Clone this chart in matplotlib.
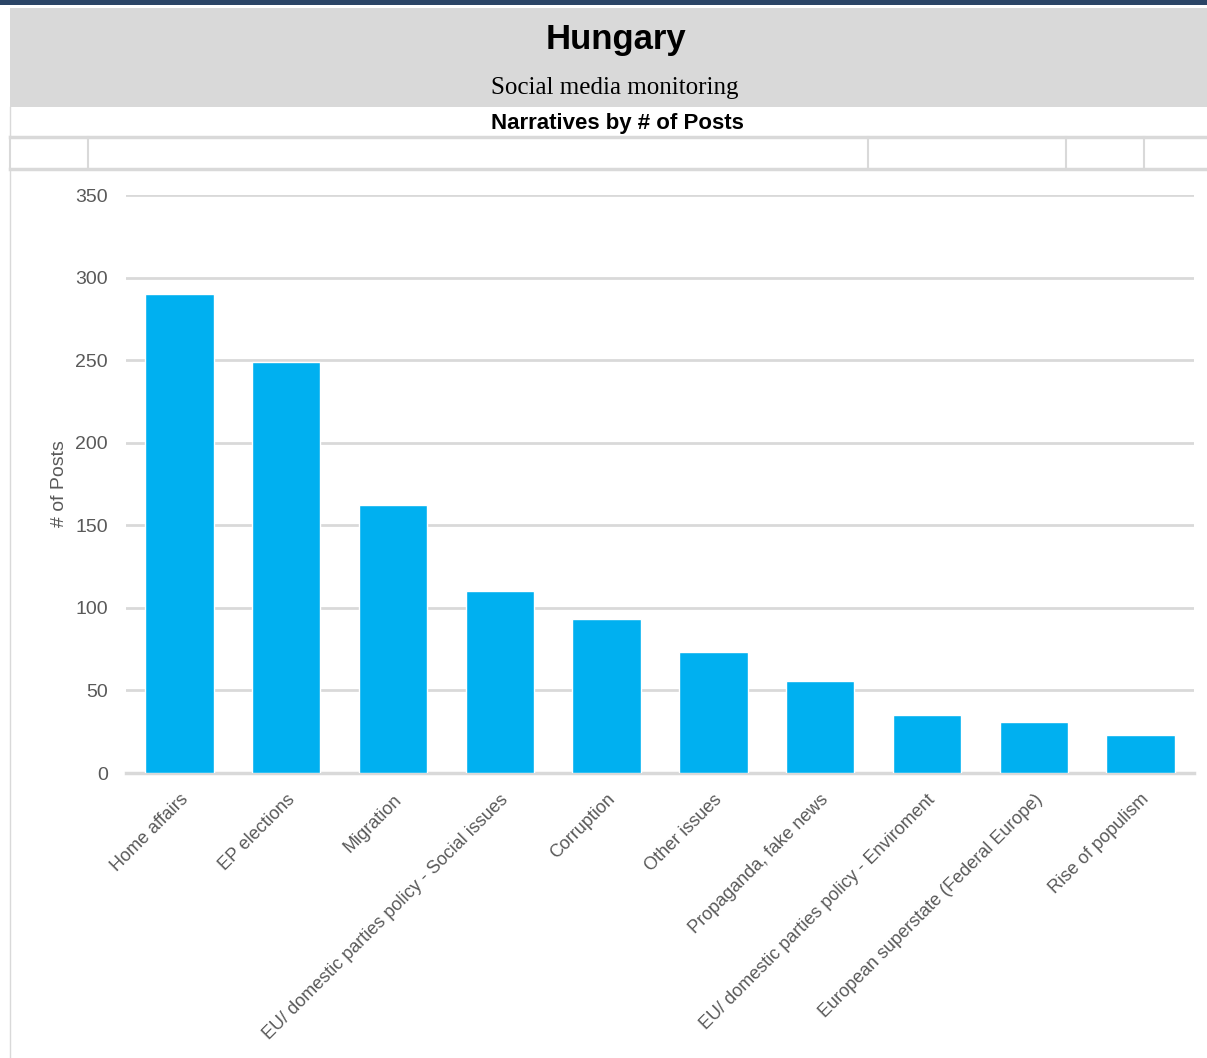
import matplotlib
matplotlib.use("Agg")
import matplotlib.pyplot as plt
from matplotlib.patches import Rectangle
from matplotlib.lines import Line2D

categories = [
    "Home affairs",
    "EP elections",
    "Migration",
    "EU/ domestic parties policy - Social issues",
    "Corruption",
    "Other issues",
    "Propaganda, fake news",
    "EU/ domestic parties policy - Enviroment",
    "European superstate (Federal Europe)",
    "Rise of populism",
]
posts = [290, 249, 162, 110, 93, 73, 56, 35, 31, 23]
y_ticks = [0, 50, 100, 150, 200, 250, 300, 350]

W, H = 1207, 1058
fig = plt.figure(figsize=(W / 100, H / 100), dpi=100)
fig.patch.set_facecolor("white")

SANS = ["Liberation Sans", "DejaVu Sans"]
GRID = "#D9D9D9"
TXT = "#595959"


def fx(px):
    return px / W


def fy(py):
    return 1 - py / H


def rect(x0, y0, x1, y1, color):
    fig.add_artist(Rectangle((fx(x0), fy(y1)), fx(x1) - fx(x0), fy(y0) - fy(y1),
                             transform=fig.transFigure, facecolor=color,
                             edgecolor="none", zorder=0))


def line(x0, y0, x1, y1, lw=2.0):
    fig.add_artist(Line2D([fx(x0), fx(x1)], [fy(y0), fy(y1)],
                          transform=fig.transFigure, color=GRID, lw=lw, zorder=1))


# header blocks
rect(0, 0, W, 5, "#2B4566")
rect(10, 8, W, 107, "#D9D9D9")
line(10, 137, W, 137, 2.5)
line(10, 169, W, 169, 2.5)
for x in [10, 88, 868, 1066, 1144]:
    line(x, 137, x, 169, 1.5)
line(10, 169, 10, H, 1.0)
line(10, 107, 10, 137, 1.0)

fig.text(fx(616), fy(39), "Hungary", ha="center", va="center",
         fontsize=25, fontweight="bold", family=SANS, color="black")
fig.text(fx(615), fy(88), "Social media monitoring", ha="center", va="center",
         fontsize=18, family=["Liberation Serif", "DejaVu Serif"], color="black")
fig.text(fx(617), fy(124), "Narratives by # of Posts", ha="center", va="center",
         fontsize=16, fontweight="bold", family=SANS, color="black")

# chart
ax = fig.add_axes([fx(126), fy(773), fx(1194) - fx(126), fy(195) - fy(773)])
x = list(range(len(categories)))
ax.bar(x, posts, width=0.64, color="#00B0F0", edgecolor="white", linewidth=1.0, zorder=3)
ax.set_xlim(-0.5, len(categories) - 0.5)
ax.set_ylim(0, 350)
ax.set_yticks(y_ticks)
ax.set_yticklabels([str(v) for v in y_ticks], family=SANS, fontsize=14, color=TXT)
ax.grid(axis="y", color=GRID, linewidth=2.0, zorder=0)
ax.set_axisbelow(True)
for s in ["top", "right", "left"]:
    ax.spines[s].set_visible(False)
ax.spines["bottom"].set_color(GRID)
ax.spines["bottom"].set_linewidth(2.5)
ax.tick_params(axis="y", length=0, pad=13)
ax.tick_params(axis="x", length=0, pad=13)
ax.set_xticks(x)
ax.set_xticklabels(categories, rotation=45, ha="right", va="top",
                   rotation_mode="anchor", family=SANS, fontsize=13, color=TXT)
ax.set_ylabel("# of Posts", family=SANS, fontsize=14, color=TXT, labelpad=5)

fig.savefig("out.png", dpi=100)
